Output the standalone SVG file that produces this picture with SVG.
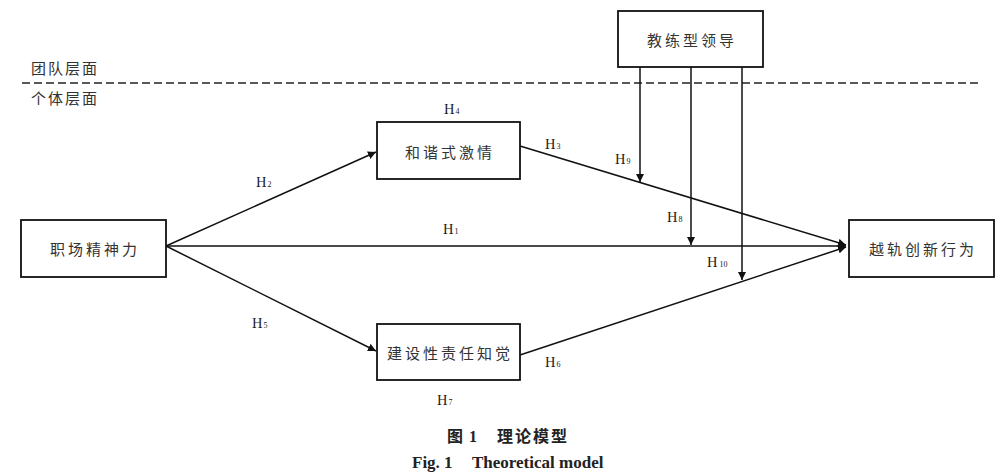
<svg xmlns="http://www.w3.org/2000/svg" width="1000" height="475" viewBox="0 0 1000 475">
<style>
.box{fill:#fff;stroke:#111;stroke-width:1.8}
.ln{fill:none;stroke:#111;stroke-width:1.5}
.cn{font-family:"Noto Sans CJK SC","Liberation Serif",serif;font-size:15px;fill:#333;letter-spacing:3px;text-anchor:middle;dominant-baseline:central}
.lv{font-family:"Noto Sans CJK SC","Liberation Serif",serif;font-size:15px;fill:#333;letter-spacing:2px}
.h{font-family:"Liberation Serif",serif;font-size:14.5px;fill:#222}
.s{font-size:8px}
.cap{font-family:"Liberation Serif","Noto Sans CJK SC",serif;font-weight:bold;fill:#222;font-size:16px}
.en{font-size:17px}
</style>
<defs>
<marker id="ar" viewBox="0 0 10 10" refX="10" refY="5" markerWidth="8" markerHeight="8" markerUnits="userSpaceOnUse" orient="auto">
<path d="M0,0 L10,5 L0,10 z" fill="#111"/>
</marker>
</defs>
<text class="lv" x="31" y="74">团队层面</text>
<line x1="22" y1="83" x2="982" y2="83" stroke="#222" stroke-width="1.6" stroke-dasharray="8,4"/>
<text class="lv" x="31" y="104">个体层面</text>
<g id="connectors">
<line class="ln" x1="166" y1="246" x2="376" y2="152" marker-end="url(#ar)"/>
<line class="ln" x1="166" y1="246" x2="846" y2="246" marker-end="url(#ar)"/>
<line class="ln" x1="166" y1="246" x2="376" y2="351" marker-end="url(#ar)"/>
<line class="ln" x1="520" y1="146" x2="846" y2="245" marker-end="url(#ar)"/>
<line class="ln" x1="520" y1="355" x2="846" y2="247" marker-end="url(#ar)"/>
<line class="ln" x1="640" y1="67" x2="640" y2="182" marker-end="url(#ar)"/>
<line class="ln" x1="691" y1="67" x2="691" y2="245" marker-end="url(#ar)"/>
<line class="ln" x1="742" y1="67" x2="742" y2="280" marker-end="url(#ar)"/>
</g>
<g id="n1"><rect class="box" x="21" y="220" width="145" height="57"/><text class="cn" x="95" y="248">职场精神力</text></g>
<g id="n2"><rect class="box" x="377" y="122" width="143" height="57"/><text class="cn" x="450" y="151">和谐式激情</text></g>
<g id="n3"><rect class="box" x="377" y="324" width="143" height="56"/><text class="cn" x="450" y="352">建设性责任知觉</text></g>
<g id="n4"><rect class="box" x="849" y="220" width="145" height="57"/><text class="cn" x="923" y="248">越轨创新行为</text></g>
<g id="n5"><rect class="box" x="618" y="11" width="145" height="56"/><text class="cn" x="692" y="39">教练型领导</text></g>
<g id="labels">
<text class="h" x="444" y="114">H<tspan class="s" dx="1">4</tspan></text>
<text class="h" x="256" y="187">H<tspan class="s" dx="1">2</tspan></text>
<text class="h" x="443" y="234">H<tspan class="s" dx="1">1</tspan></text>
<text class="h" x="545" y="149">H<tspan class="s" dx="1">3</tspan></text>
<text class="h" x="615" y="164">H<tspan class="s" dx="1">9</tspan></text>
<text class="h" x="667" y="222">H<tspan class="s" dx="1">8</tspan></text>
<text class="h" x="707" y="267">H<tspan class="s" dx="2">10</tspan></text>
<text class="h" x="252" y="328">H<tspan class="s" dx="1">5</tspan></text>
<text class="h" x="545" y="367">H<tspan class="s" dx="1">6</tspan></text>
<text class="h" x="437" y="405">H<tspan class="s" dx="1">7</tspan></text>
</g>
<g id="caption">
<text class="cap" x="447" y="442">图<tspan dx="6">1</tspan></text>
<text class="cap" x="497" y="442" letter-spacing="2">理论模型</text>
<text class="cap en" x="412" y="468">Fig. 1</text>
<text class="cap en" x="472" y="468">Theoretical model</text>
</g>
</svg>
